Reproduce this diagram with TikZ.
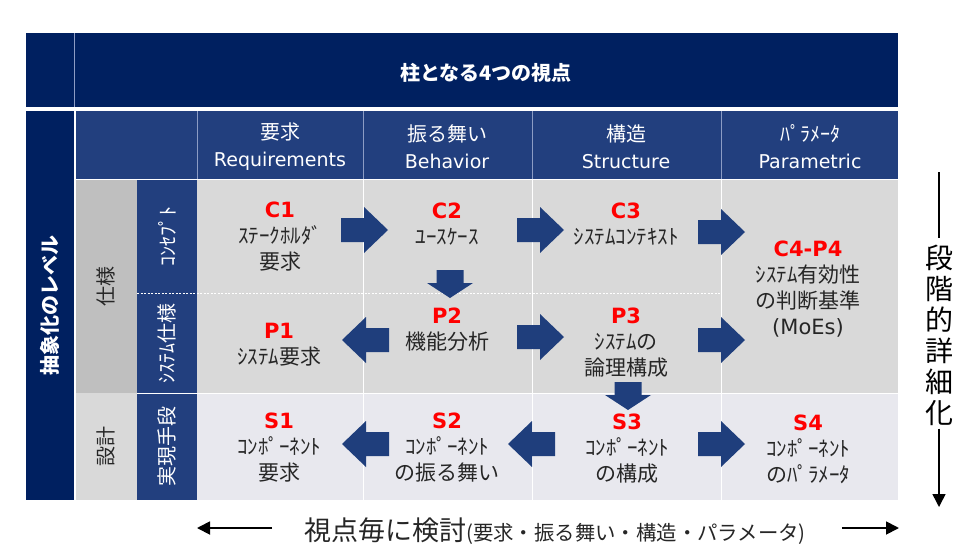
\documentclass[tikz,border=0pt]{standalone}
\usepackage{fontspec}
\setmainfont{Noto Sans CJK JP}
\newfontfamily\lat{DejaVu Sans}
\usetikzlibrary{arrows.meta}
\definecolor{navy}{HTML}{002060}
\definecolor{hdrblue}{HTML}{223F7E}
\definecolor{arrblue}{HTML}{1F3E7C}
\definecolor{rowgray}{HTML}{D9D9D9}
\definecolor{rowlight}{HTML}{E8E8EE}
\definecolor{colgray}{HTML}{BFBFBF}
\definecolor{bodytxt}{HTML}{262626}
\definecolor{redlbl}{HTML}{FF0000}
\definecolor{hdrline}{HTML}{8C9CC4}
\newcommand{\lblcode}[1]{{\lat\bfseries\color{redlbl}#1}}
\tikzset{
  body/.style={align=center, font=\fontsize{21}{26}\selectfont, text=bodytxt, inner sep=0pt},
  hdr/.style={align=center, font=\fontsize{20}{27}\selectfont, text=white, inner sep=0pt},
  vlab/.style={rotate=90, font=\fontsize{20}{24}\selectfont, inner sep=0pt},
  gridw/.style={white, line width=1pt},
  blackarrow/.style={black, line width=1.8pt, -{Triangle[length=13pt,width=13pt]}},
  rarr/.pic={\fill[arrblue] (0,-12) -- (23,-12) -- (23,-23) -- (47,0) -- (23,23) -- (23,12) -- (0,12) -- cycle;},
  larr/.pic={\fill[arrblue] (0,-12) -- (-23,-12) -- (-23,-23) -- (-47,0) -- (-23,23) -- (-23,12) -- (0,12) -- cycle;},
  darr/.pic={\fill[arrblue] (-13.5,0) -- (13.5,0) -- (13.5,13) -- (23,13) -- (0,28) -- (-23,13) -- (-13.5,13) -- cycle;}
}
\begin{document}
\begin{tikzpicture}[x=1pt,y=-1pt]
\useasboundingbox[fill=white] (0,0) rectangle (961,554);
% top header
\fill[navy] (26,33) rectangle (898,107);
\draw[hdrline, line width=1.2pt] (74.5,33) -- (74.5,107);
\node[font=\bfseries\fontsize{20}{24}\selectfont, text=white] (title) at (486,73) {柱となる4つの視点};
% left column
\fill[navy] (26,111) rectangle (74,500);
\node[vlab, text=white, font=\bfseries\fontsize{20}{24}\selectfont] (lvl) at (50,305) {抽象化のレベル};
% header row
\fill[hdrblue] (76,111) rectangle (898,179);
\foreach \xx in {197.5,363,532,721} \draw[hdrline, line width=1pt] (\xx,111) -- (\xx,179);
\node[hdr] (hreq) at (280,147) {要求\\{\lat\fontsize{19}{27}\selectfont Requirements}};
\node[hdr] (hbeh) at (447,147) {振る舞い\\{\lat\fontsize{19}{27}\selectfont Behavior}};
\node[hdr] (hstr) at (626,147) {構造\\{\lat\fontsize{19}{27}\selectfont Structure}};
\node[hdr] (hpar) at (810,147) {ﾊﾟﾗﾒｰﾀ\\{\lat\fontsize{19}{27}\selectfont Parametric}};
% gray level column
\fill[colgray] (76,179) rectangle (137,393);
\fill[rowgray] (76,393) rectangle (137,500);
\node[vlab, text=bodytxt] (spec) at (106,286) {仕様};
\node[vlab, text=bodytxt] (design) at (106,446) {設計};
% blue sub column
\fill[hdrblue] (137,179) rectangle (197,500);
\node[vlab, text=white] (concept) at (167,236) {ｺﾝｾﾌﾟﾄ};
\node[vlab, text=white] (sysspec) at (167,343) {ｼｽﾃﾑ仕様};
\node[vlab, text=white] (means) at (167,446) {実現手段};
% body rows
\fill[rowgray] (197,179) rectangle (898,393);
\fill[rowlight] (197,393) rectangle (898,500);
\foreach \xx in {363,532,721} \draw[gridw] (\xx,179) -- (\xx,500);
\draw[gridw] (76,179) -- (898,179);
\draw[gridw] (137,393) -- (898,393);
\draw[white, line width=1pt, dash pattern=on 2pt off 1.5pt] (137,293) -- (721,293);
\draw[white, line width=2pt] (75,111) -- (75,500);
% arrows
\pic at (341,230) {rarr};
\pic at (517,230) {rarr};
\pic at (698,232) {rarr};
\pic at (517,337) {rarr};
\pic at (698,340) {rarr};
\pic at (698,444) {rarr};
\pic at (389,340) {larr};
\pic at (389,444) {larr};
\pic at (555,444) {larr};
\pic at (450,270) {darr};
\pic at (628,382) {darr};
% cell texts
\node[body] (c1) at (280,237) {\lblcode{C1}\\ｽﾃｰｸﾎﾙﾀﾞ\\要求};
\node[body] (c2) at (447,224) {\lblcode{C2}\\ﾕｰｽｹｰｽ};
\node[body] (c3) at (626,224) {\lblcode{C3}\\ｼｽﾃﾑｺﾝﾃｷｽﾄ};
\node[body] (c4) at (808,289) {\lblcode{C4-P4}\\ｼｽﾃﾑ有効性\\の判断基準\\{\lat (MoEs)}};
\node[body] (p1) at (279,345) {\lblcode{P1}\\ｼｽﾃﾑ要求};
\node[body] (p2) at (447,330) {\lblcode{P2}\\機能分析};
\node[body] (p3) at (626,343) {\lblcode{P3}\\ｼｽﾃﾑの\\論理構成};
\node[body] (s1) at (279,448) {\lblcode{S1}\\ｺﾝﾎﾟｰﾈﾝﾄ\\要求};
\node[body] (s2) at (447,448) {\lblcode{S2}\\ｺﾝﾎﾟｰﾈﾝﾄ\\の振る舞い};
\node[body] (s3) at (627,449) {\lblcode{S3}\\ｺﾝﾎﾟｰﾈﾝﾄ\\の構成};
\node[body] (s4) at (808,449) {\lblcode{S4}\\ｺﾝﾎﾟｰﾈﾝﾄ\\のﾊﾟﾗﾒｰﾀ};
% right side
\node[align=center, font=\fontsize{28}{31}\selectfont, inner sep=0pt] (step) at (939,335) {段\\階\\的\\詳\\細\\化};
\coordinate (stepTop) at (939,172);
\coordinate (stepBot) at (939,507);
\draw[black, line width=1.5pt, shorten >=6pt] (stepTop) -- (step.north);
\draw[blackarrow, line width=1.5pt, shorten <=3pt] (step.south) -- (stepBot);
% bottom
\node[inner sep=0pt, text=bodytxt] (bot) at (555,531) {{\fontsize{27}{32}\selectfont 視点毎に検討}{\fontsize{20.4}{24}\selectfont (要求・振る舞い・構造・パラメータ)}};
\coordinate (botL) at (197,528);
\coordinate (botR) at (899,528);
\draw[blackarrow, shorten <=32pt] (bot.west |- botL) -- (botL);
\draw[blackarrow, shorten <=36pt] (bot.east |- botR) -- (botR);
\end{tikzpicture}
\end{document}
